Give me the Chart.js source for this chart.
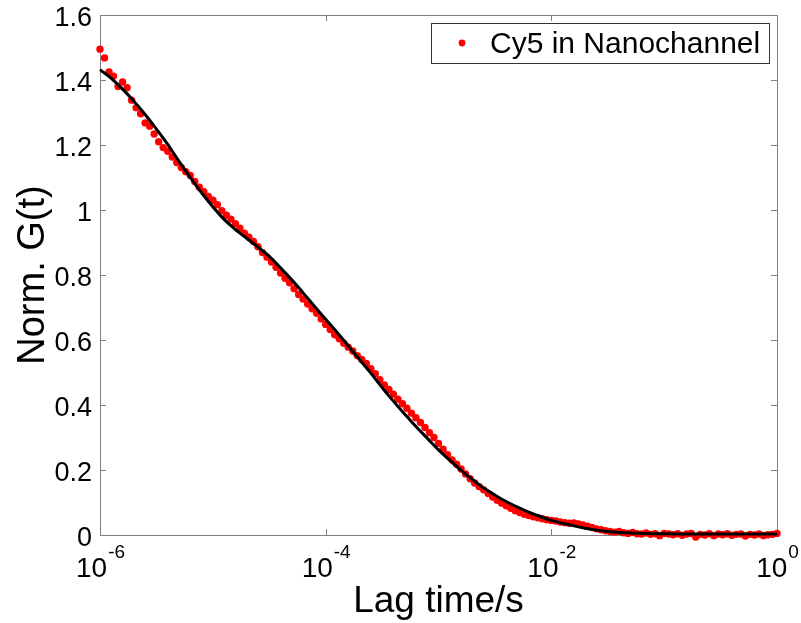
<!DOCTYPE html>
<html>
<head>
<meta charset="utf-8">
<script src="https://cdn.jsdelivr.net/npm/chart.js@4.4.1/dist/chart.umd.min.js"></script>
<style>
  html, body { margin: 0; padding: 0; background: #fff; }
  canvas { display: block; }
</style>
</head>
<body>
<canvas id="chart" width="801" height="623"></canvas>
<script>
// ── Data ────────────────────────────────────────────────────────────────
// Measured lag times as log10(seconds)
const lagExp = [
  -6.00, -5.96, -5.92, -5.88, -5.84, -5.80, -5.76, -5.72, -5.68, -5.64,
  -5.60, -5.56, -5.52, -5.48, -5.44, -5.40, -5.36, -5.32, -5.28, -5.24,
  -5.20, -5.16, -5.12, -5.08, -5.04, -5.00, -4.96, -4.92, -4.88, -4.84,
  -4.80, -4.76, -4.72, -4.68, -4.64, -4.60, -4.56, -4.52, -4.48, -4.44,
  -4.40, -4.36, -4.32, -4.28, -4.24, -4.20, -4.16, -4.12, -4.08, -4.04,
  -4.00, -3.96, -3.92, -3.88, -3.84, -3.80, -3.76, -3.72, -3.68, -3.64,
  -3.60, -3.56, -3.52, -3.48, -3.44, -3.40, -3.36, -3.32, -3.28, -3.24,
  -3.20, -3.16, -3.12, -3.08, -3.04, -3.00, -2.96, -2.92, -2.88, -2.84,
  -2.80, -2.76, -2.72, -2.68, -2.64, -2.60, -2.56, -2.52, -2.48, -2.44,
  -2.40, -2.36, -2.32, -2.28, -2.24, -2.20, -2.16, -2.12, -2.08, -2.04,
  -2.00, -1.96, -1.92, -1.88, -1.84, -1.80, -1.76, -1.72, -1.68, -1.64,
  -1.60, -1.56, -1.52, -1.48, -1.44, -1.40, -1.36, -1.32, -1.28, -1.24,
  -1.20, -1.16, -1.12, -1.08, -1.04, -1.00, -0.96, -0.92, -0.88, -0.84,
  -0.80, -0.76, -0.72, -0.68, -0.64, -0.60, -0.56, -0.52, -0.48, -0.44,
  -0.40, -0.36, -0.32, -0.28, -0.24, -0.20, -0.16, -0.12, -0.08, -0.04,
  0.00
];

// Normalised correlation G(t) of Cy5 in the nanochannel
const normG = [
  1.495, 1.468, 1.425, 1.412, 1.380, 1.394, 1.376, 1.338, 1.315, 1.296,
  1.268, 1.258, 1.234, 1.210, 1.192, 1.181, 1.163, 1.146, 1.131, 1.118,
  1.106, 1.088, 1.070, 1.056, 1.042, 1.030, 1.016, 0.998, 0.984, 0.972,
  0.958, 0.944, 0.929, 0.916, 0.903, 0.887, 0.869, 0.855, 0.840, 0.824,
  0.806, 0.790, 0.776, 0.758, 0.740, 0.726, 0.711, 0.696, 0.682, 0.665,
  0.648, 0.632, 0.616, 0.604, 0.590, 0.578, 0.566, 0.552, 0.540, 0.528,
  0.512, 0.496, 0.478, 0.462, 0.448, 0.433, 0.418, 0.404, 0.390, 0.375,
  0.361, 0.346, 0.331, 0.315, 0.300, 0.282, 0.264, 0.247, 0.231, 0.218,
  0.203, 0.188, 0.173, 0.160, 0.149, 0.139, 0.128, 0.117, 0.107, 0.098,
  0.090, 0.082, 0.075, 0.069, 0.064, 0.060, 0.056, 0.053, 0.050, 0.047,
  0.045, 0.043, 0.040, 0.038, 0.036, 0.037, 0.034, 0.031, 0.027, 0.023,
  0.019, 0.016, 0.013, 0.011, 0.009, 0.011, 0.007, 0.005, 0.008, 0.004,
  0.003, 0.006, 0.002, 0.004, -0.002, 0.005, 0.003, 0.001, 0.004, -0.001,
  0.003, 0.005, -0.006, 0.002, 0.000, 0.004, -0.002, 0.003, 0.001, 0.004,
  -0.001, 0.002, 0.003, -0.003, 0.002, 0.000, 0.003, -0.002, 0.001, 0.002,
  0.005
];

// Fitted model curve, log10(seconds) and G(t)
const fitExp = [
  -6.0, -5.9, -5.8, -5.7, -5.6, -5.5, -5.4, -5.3, -5.2, -5.1,
  -5.0, -4.9, -4.8, -4.7, -4.6, -4.5, -4.4, -4.3, -4.2, -4.1,
  -4.0, -3.9, -3.8, -3.7, -3.6, -3.5, -3.4, -3.3, -3.2, -3.1,
  -3.0, -2.9, -2.8, -2.7, -2.6, -2.5, -2.4, -2.3, -2.2, -2.1,
  -2.0, -1.9, -1.8, -1.7, -1.6, -1.5, -1.4, -1.3, -1.2, -1.1,
  -1.0, -0.9, -0.8, -0.7, -0.6, -0.5, -0.4, -0.3, -0.2, -0.1,
  0.0
];
const fitG = [
  1.432, 1.405, 1.372, 1.335, 1.294, 1.249, 1.202, 1.150, 1.100, 1.053,
  1.010, 0.971, 0.940, 0.913, 0.886, 0.857, 0.822, 0.785, 0.745, 0.704,
  0.664, 0.624, 0.582, 0.540, 0.498, 0.454, 0.412, 0.372, 0.334, 0.298,
  0.262, 0.230, 0.199, 0.171, 0.145, 0.123, 0.103, 0.086, 0.070, 0.057,
  0.045, 0.036, 0.028, 0.021, 0.015, 0.011, 0.008, 0.006, 0.005, 0.004,
  0.004, 0.003, 0.003, 0.003, 0.003, 0.003, 0.003, 0.003, 0.003, 0.003,
  0.003
];

// Axis ticks
const yTicks = [0, 0.2, 0.4, 0.6, 0.8, 1, 1.2, 1.4, 1.6];
const yTickLabels = ["0", "0.2", "0.4", "0.6", "0.8", "1", "1.2", "1.4", "1.6"];
const xTicks = [1e-6, 1e-4, 1e-2, 1];
const xTickExps = ["-6", "-4", "-2", "0"];

const seriesLabel = "Cy5 in Nanochannel";
const FONT = '"Liberation Sans", Arial, Helvetica, sans-serif';

// ── Axes box, inward ticks, labels and legend drawn MATLAB-style ──────────
const matlabAxes = {
  id: "matlabAxes",
  beforeDatasetsDraw(chart) {
    const { ctx, chartArea: a, scales: { x, y } } = chart;
    ctx.save();
    ctx.strokeStyle = "#808080";
    ctx.lineWidth = 1;
    ctx.strokeRect(a.left + 0.5, a.top + 0.5, a.right - a.left, a.bottom - a.top);
    ctx.beginPath();
    yTicks.forEach((v) => {
      const py = Math.round(y.getPixelForValue(v)) + 0.5;
      ctx.moveTo(a.left, py); ctx.lineTo(a.left + 6, py);
      ctx.moveTo(a.right, py); ctx.lineTo(a.right - 6, py);
    });
    xTicks.forEach((v) => {
      const px = Math.round(x.getPixelForValue(v)) + 0.5;
      ctx.moveTo(px, a.bottom); ctx.lineTo(px, a.bottom - 6);
      ctx.moveTo(px, a.top); ctx.lineTo(px, a.top + 6);
    });
    ctx.stroke();
    ctx.restore();
  },
  afterDraw(chart) {
    const { ctx, chartArea: a, scales: { x, y } } = chart;
    ctx.save();
    ctx.fillStyle = "#000";

    // y tick labels
    ctx.font = "27px " + FONT;
    ctx.textAlign = "right";
    ctx.textBaseline = "alphabetic";
    yTicks.forEach((v, i) => {
      ctx.fillText(yTickLabels[i], a.left - 8, y.getPixelForValue(v) + 10.5);
    });

    // x tick labels: 10 with superscript exponent
    xTicks.forEach((v, i) => {
      const px = x.getPixelForValue(v);
      ctx.font = "28px " + FONT;
      const wBase = ctx.measureText("10").width;
      ctx.font = "19px " + FONT;
      const wExp = ctx.measureText(xTickExps[i]).width;
      const left = px - (wBase + wExp) / 2;
      ctx.textAlign = "left";
      ctx.font = "28px " + FONT;
      ctx.fillText("10", left, a.bottom + 42);
      ctx.font = "19px " + FONT;
      ctx.fillText(xTickExps[i], left + wBase + 1, a.bottom + 23);
    });

    // axis titles
    ctx.font = "37px " + FONT;
    ctx.textAlign = "center";
    ctx.fillText("Lag time/s", (a.left + a.right) / 2, 612);
    ctx.save();
    ctx.translate(44, (a.top + a.bottom) / 2);
    ctx.rotate(-Math.PI / 2);
    ctx.font = "38px " + FONT;
    ctx.fillText("Norm. G(t)", 0, 0);
    ctx.restore();

    // legend box
    const lx = 431, ly = 23, lw = 338, lh = 40;
    ctx.fillStyle = "#fff";
    ctx.fillRect(lx, ly, lw, lh);
    ctx.strokeStyle = "#333";
    ctx.lineWidth = 1;
    ctx.strokeRect(lx + 0.5, ly + 0.5, lw, lh);
    ctx.fillStyle = "#ff0000";
    ctx.beginPath();
    ctx.arc(462, 43, 3.4, 0, Math.PI * 2);
    ctx.fill();
    ctx.fillStyle = "#000";
    ctx.font = "30px " + FONT;
    ctx.textAlign = "left";
    ctx.fillText(seriesLabel, 490, 53);
    ctx.restore();
  },
};

// ── Chart ────────────────────────────────────────────────────────────────
const measured = lagExp.map((e, i) => ({ x: Math.pow(10, e), y: normG[i] }));
const fitted = fitExp.map((e, i) => ({ x: Math.pow(10, e), y: fitG[i] }));

new Chart(document.getElementById("chart"), {
  type: "scatter",
  data: {
    datasets: [
      {
        label: "Fit",
        type: "line",
        data: fitted,
        borderColor: "#000",
        borderWidth: 3,
        pointRadius: 0,
        tension: 0.4,
        fill: false,
        order: 0,
        clip: false,
      },
      {
        label: seriesLabel,
        data: measured,
        backgroundColor: "#ff0000",
        borderWidth: 0,
        pointRadius: 3.7,
        order: 1,
        clip: false,
      },
    ],
  },
  options: {
    responsive: false,
    animation: false,
    devicePixelRatio: 1,
    layout: { padding: { left: 0, right: 24, top: 15, bottom: 0 } },
    plugins: { legend: { display: false }, tooltip: { enabled: false } },
    scales: {
      x: {
        type: "logarithmic",
        min: 1e-6,
        max: 1,
        grid: { display: false },
        ticks: { display: false },
        border: { display: false },
        afterFit(s) { s.height = 88; },
      },
      y: {
        min: 0,
        max: 1.6,
        grid: { display: false },
        ticks: { display: false },
        border: { display: false },
        afterFit(s) { s.width = 100; },
      },
    },
  },
  plugins: [matlabAxes],
});
</script>
</body>
</html>
